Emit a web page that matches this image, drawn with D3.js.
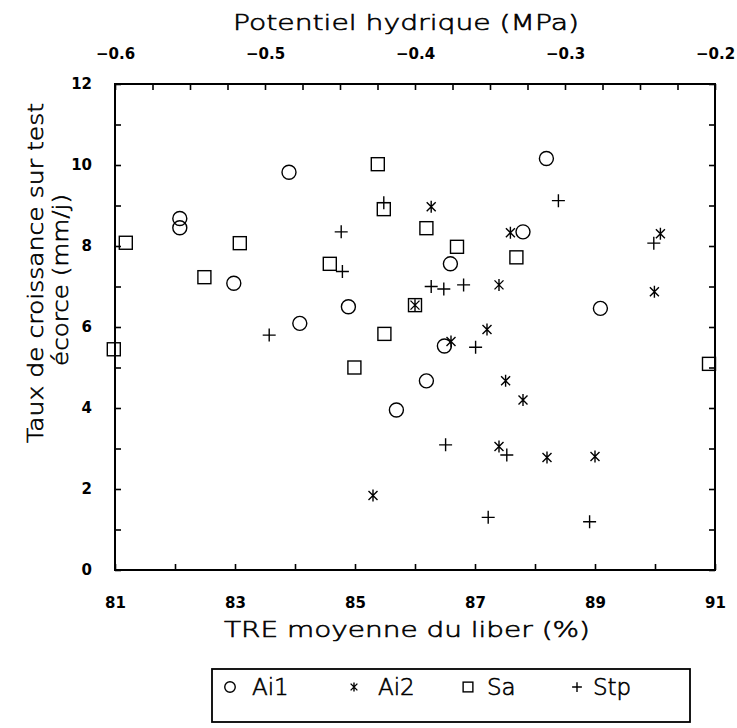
<!DOCTYPE html>
<html><head><meta charset="utf-8">
<script src="https://cdn.jsdelivr.net/npm/d3@7"></script>
<style>body{margin:0;background:#fff}</style>
</head><body>
<script>
// ---- data ----
const ai1X = [83.9, 82.08, 82.08, 82.98, 84.08, 84.89, 86.59, 86.49, 88.19, 87.8, 89.09, 86.19, 85.69];
const ai1Y = [9.82, 8.68, 8.45, 7.08, 6.09, 6.5, 7.56, 5.53, 10.16, 8.35, 6.46, 4.67, 3.95];
const ai2X = [86.27, 87.4, 86.0, 87.2, 86.6, 87.59, 90.09, 89.99, 87.51, 87.4, 85.3, 87.8, 88.2, 89.0];
const ai2Y = [8.97, 7.04, 6.54, 5.94, 5.64, 8.33, 8.30, 6.87, 4.67, 3.05, 1.84, 4.2, 2.78, 2.80];
const saX = [81.18, 83.08, 82.49, 80.98, 85.38, 85.48, 86.19, 86.7, 84.58, 86.0, 85.49, 87.69, 84.99, 90.9];
const saY = [8.08, 8.07, 7.23, 5.45, 10.02, 8.91, 8.44, 7.98, 7.56, 6.54, 5.83, 7.72, 5.0, 5.09];
const stpX = [83.57, 85.48, 84.77, 84.79, 86.27, 86.48, 86.81, 87.01, 88.39, 89.98, 86.51, 87.53, 87.22, 88.91];
const stpY = [5.80, 9.07, 8.35, 7.37, 7.0, 6.94, 7.04, 5.5, 9.12, 8.07, 3.09, 2.84, 1.30, 1.19];
const seriesNames = ["Ai1", "Ai2", "Sa", "Stp"];
const xTickValues = [81, 82, 83, 84, 85, 86, 87, 88, 89, 90, 91];
const xTickLabels = ["81", "", "83", "", "85", "", "87", "", "89", "", "91"];
const yTickValues = [0,1,2,3,4,5,6,7,8,9,10,11,12];
const yTickLabels = ["0","","2","","4","","6","","8","","10","","12"];
const topMajor = [-0.6, -0.5, -0.4, -0.3, -0.2];
const topTickLabels = ["-0.6", "-0.5", "-0.4", "-0.3", "-0.2"];
const xTitle = "TRE moyenne du liber (%)";
const topTitle = "Potentiel hydrique (MPa)";
const yTitle1 = "Taux de croissance sur test";
const yTitle2 = "écorce (mm/j)";

const W = 737, H = 728;
const L = 115, R = 715, T = 84, B = 570;
const svg = d3.select("body").append("svg").attr("width", W).attr("height", H);

const x = d3.scaleLinear().domain([81, 91]).range([L, R]);
const y = d3.scaleLinear().domain([0, 12]).range([B, T]);
const xTop = d3.scaleLinear().domain([-0.6, -0.2]).range([L, R]);

const tickFont = "'DejaVu Sans', sans-serif";
const titleFont = "'DejaVu Sans', sans-serif";

// frame
svg.append("rect").attr("x", L).attr("y", T).attr("width", R - L).attr("height", B - T)
  .attr("fill", "none").attr("stroke", "#000").attr("stroke-width", 2);

function styleAxis(g) {
  g.attr("font-size", null).attr("font-family", null);
  g.select(".domain").remove();
  g.selectAll(".tick line").attr("stroke", "#000").attr("stroke-width", 1.6);
  g.selectAll(".tick text").attr("font-family", tickFont).attr("font-weight", "bold")
    .style("font-size", "15px").attr("fill", "#000");
}

// bottom axis
svg.append("g").attr("transform", `translate(0,${B})`)
  .call(d3.axisBottom(x).tickValues(xTickValues).tickSizeInner(-6).tickSizeOuter(0).tickPadding(27)
    .tickFormat((d, i) => xTickLabels[i]))
  .call(styleAxis);

// left axis
svg.append("g").attr("transform", `translate(${L},0)`)
  .call(d3.axisLeft(y).tickValues(yTickValues).tickSizeInner(-6).tickSizeOuter(0).tickPadding(23)
    .tickFormat((d, i) => yTickLabels[i]))
  .call(styleAxis);

// right axis
svg.append("g").attr("transform", `translate(${R},0)`)
  .call(d3.axisRight(y).tickValues(yTickValues).tickSizeInner(-6).tickSizeOuter(0).tickFormat(""))
  .call(styleAxis);

// top axis
const topTicks = d3.range(17).map(i => -0.6 + i * 0.025);
svg.append("g").attr("transform", `translate(0,${T})`)
  .call(d3.axisTop(xTop).tickValues(topTicks).tickSizeInner(-6).tickSizeOuter(0).tickPadding(25)
    .tickFormat(d => {
      const k = topMajor.findIndex(v => Math.abs(v - d) < 1e-6);
      return k >= 0 ? topTickLabels[k].replace("-", "\u2212") : "";
    }))
  .call(styleAxis);

// titles
function title(sel) {
  return sel.attr("font-family", titleFont).attr("font-weight", 200).attr("font-size", 22)
    .attr("stroke", "#000").attr("stroke-width", 0.6)
    .attr("lengthAdjust", "spacingAndGlyphs").attr("text-anchor", "middle").attr("fill", "#000");
}
svg.append("text").attr("x", 407).attr("y", 637).call(title).attr("textLength", 366).text(xTitle);
svg.append("text").attr("x", 406).attr("y", 30).call(title).attr("textLength", 346).text(topTitle);
svg.append("text").attr("transform", "translate(43,273) rotate(-90)").call(title)
  .attr("textLength", 340).text(yTitle1);
svg.append("text").attr("transform", "translate(68,280) rotate(-90)").call(title)
  .attr("textLength", 172).text(yTitle2);

// symbols
function drawSym(g, type, s) {
  let el;
  if (type === "Ai1") el = g.append("circle").attr("r", 7 * s);
  else if (type === "Sa") el = g.append("rect").attr("x", -6.5 * s).attr("y", -6.5 * s).attr("width", 13 * s).attr("height", 13 * s);
  else if (type === "Stp") el = g.append("path").attr("d", `M${-6.5*s},0H${6.5*s}M0,${-6.5*s}V${6.5*s}`);
  else el = g.append("path").attr("d", `M0,${-6*s}V${6*s}M${-4.5*s},${-4.5*s}L${4.5*s},${4.5*s}M${-4.5*s},${4.5*s}L${4.5*s},${-4.5*s}`);
  el.attr("fill", "none").attr("stroke", "#000").attr("stroke-width", 1.4);
}

const sets = [["Ai1", ai1X, ai1Y], ["Sa", saX, saY], ["Ai2", ai2X, ai2Y], ["Stp", stpX, stpY]];
sets.forEach(([name, xs, ys]) => {
  const g = svg.append("g").attr("class", "series-" + name);
  xs.forEach((v, i) => {
    const pg = g.append("g").attr("transform", `translate(${x(v)},${y(ys[i])})`);
    drawSym(pg, name, 1);
  });
});

// legend
const lg = svg.append("g");
lg.append("rect").attr("x", 212).attr("y", 669).attr("width", 478).attr("height", 53)
  .attr("fill", "none").attr("stroke", "#000").attr("stroke-width", 1.8);
const legSymX = [230, 354, 468, 577];
const legTextX = [252, 378, 487, 593];
seriesNames.forEach((n, i) => {
  const pg = lg.append("g").attr("transform", `translate(${legSymX[i]},687)`);
  drawSym(pg, n, 0.75);
  lg.append("text").attr("x", legTextX[i]).attr("y", 695).attr("font-family", titleFont)
    .attr("font-weight", 200).attr("stroke", "#000").attr("stroke-width", 0.6)
    .attr("font-size", 23).attr("fill", "#000").text(n);
});
</script>
</body></html>
